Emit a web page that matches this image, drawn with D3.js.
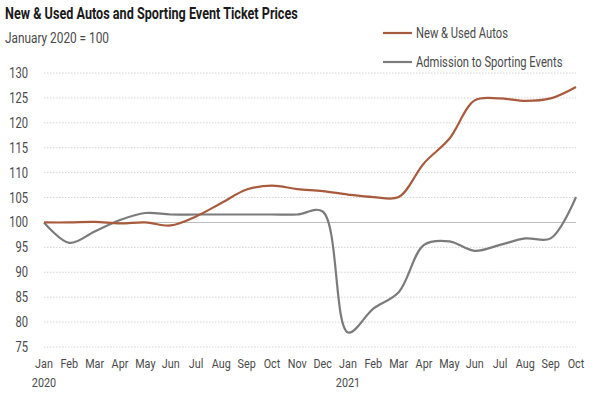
<!DOCTYPE html>
<html>
<head>
<meta charset="utf-8">
<script src="https://cdn.jsdelivr.net/npm/d3@7/dist/d3.min.js"></script>
<style>
  body { margin: 0; background: #fff; }
  svg { display: block; font-family: "Roboto", "Liberation Sans", sans-serif; }
</style>
</head>
<body>
<div id="chart"></div>
<script>
// ------------------------------------
// Data
// ------------------------------------
const months = ["Jan","Feb","Mar","Apr","May","Jun","Jul","Aug","Sep","Oct","Nov","Dec",
                "Jan","Feb","Mar","Apr","May","Jun","Jul","Aug","Sep","Oct"];
const yearLabels = [{ index: 0, label: "2020" }, { index: 12, label: "2021" }];

const autos = [100, 100, 100.1, 99.8, 100, 99.4, 101.2, 103.9, 106.6, 107.4, 106.7, 106.3,
               105.6, 105.1, 105.1, 111.9, 116.8, 124.5, 124.9, 124.4, 124.9, 127.2];
const sporting = [100, 95.9, 98.2, 100.5, 101.9, 101.6, 101.6, 101.6, 101.6, 101.6, 101.6, 102.2,
                  77.9, 82.7, 86.0, 95.5, 96.2, 94.3, 95.5, 96.8, 96.8, 105.1];

const yTicks = [75, 80, 85, 90, 95, 100, 105, 110, 115, 120, 125, 130];

const seriesList = [
  { name: "New & Used Autos", values: autos, color: "#a85a3c" },
  { name: "Admission to Sporting Events", values: sporting, color: "#7b7b7b" }
];

// ------------------------------------
// Layout
// ------------------------------------
const width = 599, height = 399;
const margin = { top: 73, right: 23, bottom: 52, left: 44 };
const innerWidth = width - margin.left - margin.right;
const innerHeight = height - margin.top - margin.bottom;
const condense = 0.8;   // the reference uses a condensed face

const svg = d3.select("#chart").append("svg")
  .attr("width", width)
  .attr("height", height);

const x = d3.scaleLinear().domain([0, months.length - 1]).range([margin.left, margin.left + innerWidth]);
const y = d3.scaleLinear().domain([75, 130]).range([margin.top + innerHeight, margin.top]);

// squeeze a text horizontally around its anchor x
function squeeze(sel) {
  sel.each(function () {
    const t = d3.select(this);
    const ax = +t.attr("x") || 0;
    t.attr("transform", `translate(${ax},0) scale(${condense},1) translate(${-ax},0)`);
  });
}

// Title
svg.append("text")
  .attr("x", 5).attr("y", 19)
  .style("font-size", "15.8px").style("font-weight", "bold").attr("fill", "#1a1a1a")
  .text("New & Used Autos and Sporting Event Ticket Prices")
  .call(squeeze);

svg.append("text")
  .attr("x", 5).attr("y", 43)
  .style("font-size", "14.8px").attr("fill", "#4a4a4a")
  .text("January 2020 = 100")
  .call(squeeze);

// Gridlines
svg.append("g")
  .selectAll("line")
  .data(yTicks)
  .join("line")
  .attr("x1", margin.left).attr("x2", margin.left + innerWidth)
  .attr("y1", d => y(d)).attr("y2", d => y(d))
  .attr("stroke", d => d === 100 ? "#bdbdbd" : "#d4d4d4")
  .attr("stroke-width", 1)
  .attr("stroke-dasharray", d => d === 100 ? null : "1.5,1.5");

// Y labels
svg.append("g")
  .selectAll("text")
  .data(yTicks)
  .join("text")
  .attr("x", 28)
  .attr("y", d => y(d) + 5)
  .attr("text-anchor", "end")
  .style("font-size", "14px").attr("fill", "#4a4a4a")
  .text(d => d)
  .call(squeeze);

// X labels
svg.append("g")
  .selectAll("text")
  .data(months)
  .join("text")
  .attr("x", (d, i) => x(i))
  .attr("y", 368)
  .attr("text-anchor", "middle")
  .style("font-size", "13.5px").attr("fill", "#4a4a4a")
  .text(d => d)
  .call(squeeze);

svg.append("g")
  .selectAll("text")
  .data(yearLabels)
  .join("text")
  .attr("x", d => x(d.index))
  .attr("y", 387)
  .attr("text-anchor", "middle")
  .style("font-size", "13.5px").attr("fill", "#4a4a4a")
  .text(d => d.label)
  .call(squeeze);

// Lines
const line = d3.line()
  .x((d, i) => x(i))
  .y(d => y(d))
  .curve(d3.curveCatmullRom.alpha(0.5));

svg.append("g")
  .selectAll("path")
  .data(seriesList.slice().reverse())
  .join("path")
  .attr("fill", "none")
  .attr("stroke", d => d.color)
  .attr("stroke-width", 2.2)
  .attr("stroke-linejoin", "round")
  .attr("d", d => line(d.values));

// Legend
const legend = svg.append("g")
  .selectAll("g")
  .data(seriesList)
  .join("g")
  .attr("transform", (d, i) => `translate(383,${33 + i * 29})`);

legend.append("line")
  .attr("x1", 0).attr("x2", 29)
  .attr("stroke", d => d.color)
  .attr("stroke-width", 2.2);

legend.append("text")
  .attr("x", 33)
  .attr("y", 5)
  .style("font-size", "14px").attr("fill", "#4a4a4a")
  .text(d => d.name)
  .call(squeeze);
</script>
</body>
</html>
